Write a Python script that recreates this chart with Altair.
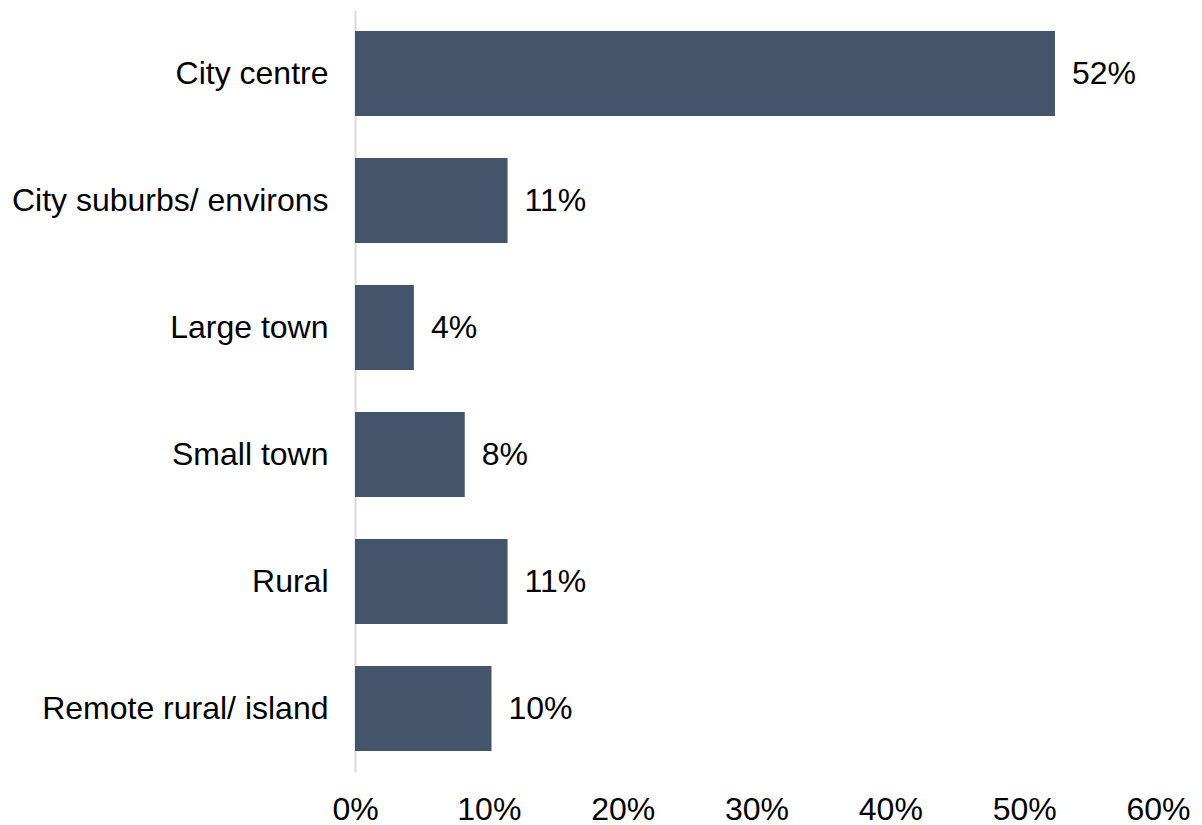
import altair as alt
import pandas as pd

categories = ["City centre", "City suburbs/ environs", "Large town", "Small town", "Rural", "Remote rural/ island"]
values = [0.523, 0.114, 0.044, 0.082, 0.114, 0.102]

df = pd.DataFrame({"category": categories, "value": values})

base = alt.Chart(df).encode(
    y=alt.Y("category:N", sort=categories, title=None,
            scale=alt.Scale(paddingInner=0.33, paddingOuter=0.165),
            axis=alt.Axis(domain=True, domainColor="#d9d9d9", domainWidth=2, ticks=False,
                          labelFontSize=32, labelFont="Liberation Sans", labelColor="#000000",
                          labelPadding=27, labelLimit=400)),
    x=alt.X("value:Q", title=None,
            scale=alt.Scale(domain=[0, 0.6], nice=False),
            axis=alt.Axis(format=".0%", values=[0, 0.1, 0.2, 0.3, 0.4, 0.5, 0.6], grid=False, domain=False,
                          ticks=False, labelFontSize=32, labelFont="Liberation Sans",
                          labelColor="#000000", labelPadding=22, labelFlush=False)),
)

bars = base.mark_bar(color="#44546A")
labels = base.mark_text(align="left", baseline="middle", dx=17, fontSize=32,
                        font="Liberation Sans", color="#000000").encode(
    text=alt.Text("value:Q", format=".0%"))

chart = (bars + labels).properties(
    width=803, height=762,
    autosize=alt.AutoSizeParams(type="none"),
    padding={"left": 355, "top": 10, "right": 44, "bottom": 53},
    background="white",
).configure_view(strokeWidth=0, stroke="transparent")

chart.save("out.html", embed_options={"renderer": "svg", "actions": False})
